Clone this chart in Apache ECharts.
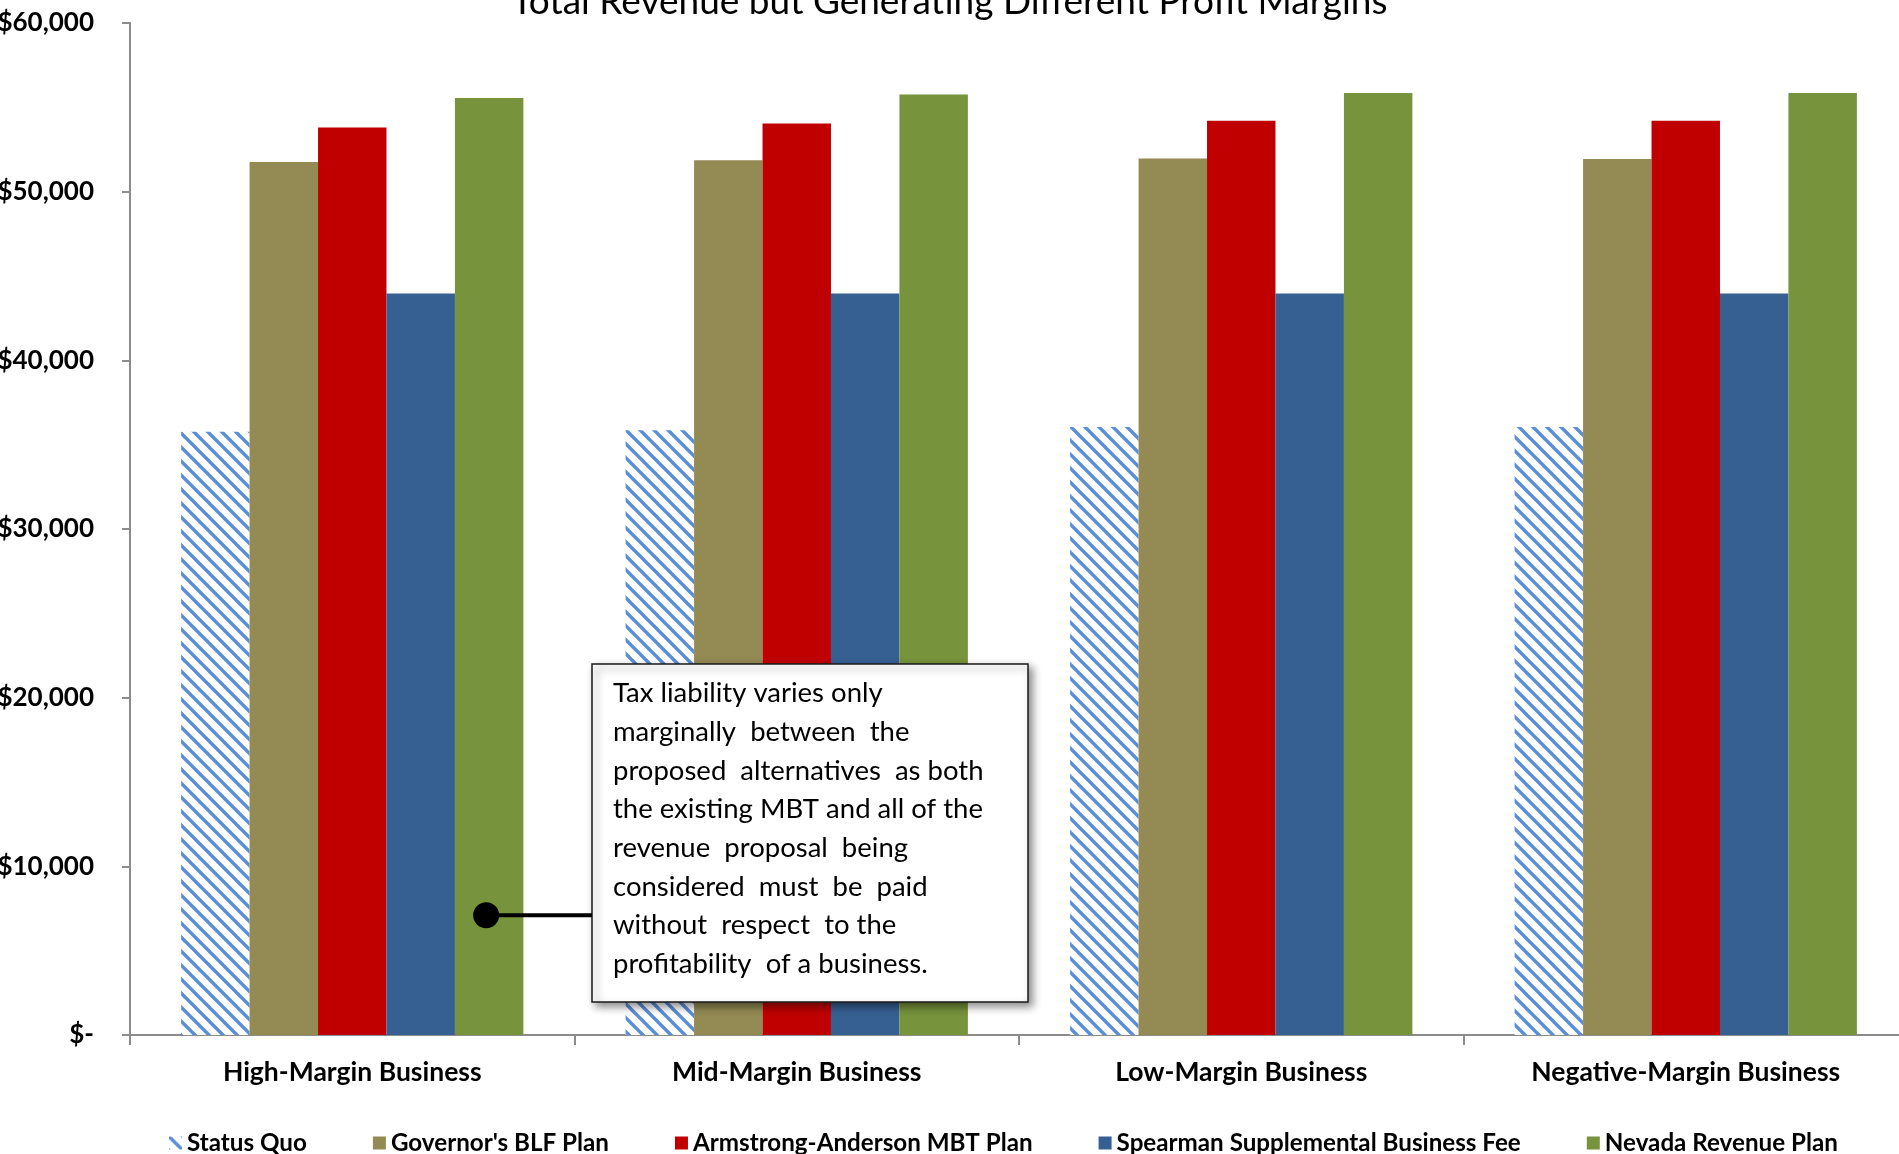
<!DOCTYPE html>
<html>
<head>
<meta charset="utf-8">
<style>
  html, body { margin: 0; padding: 0; background: #ffffff; }
  #chart { width: 1899px; height: 1154px; }
</style>
<script src="https://cdn.jsdelivr.net/npm/echarts@6/dist/echarts.min.js"></script>
</head>
<body>
<div id="chart"></div>
<script>
// Business categories along the x axis
const categories = ['High-Margin Business', 'Mid-Margin Business', 'Low-Margin Business', 'Negative-Margin Business'];

// Tax liability per plan, in dollars
const statusQuo         = [35760, 35860, 36050, 36050];
const governorsBLF      = [51760, 51860, 51960, 51940];
const armstrongAnderson = [53800, 54040, 54210, 54210];
const spearmanFee       = [43960, 43960, 43960, 43960];
const nevadaRevenue     = [55560, 55760, 55850, 55850];

const seriesNames = [
  'Status Quo',
  "Governor's BLF Plan",
  'Armstrong-Anderson MBT Plan',
  'Spearman Supplemental Business Fee',
  'Nevada Revenue Plan'
];

// Value axis range
const yMin = 0;
const yMax = 60000;
const yStep = 10000;

// Callout anchor: inside the Nevada bar of the first category
const calloutCategory = 0;
const calloutValue = 7100;
const calloutLines = [
  'Tax liability varies only',
  'marginally  between  the',
  'proposed  alternatives  as both',
  'the existing MBT and all of the',
  'revenue  proposal  being',
  'considered  must  be  paid',
  'without  respect  to the',
  'profitability  of a business.'
];

const FONT = 'Lato, "Open Sans", sans-serif';

// Diagonal hatch tile for the Status Quo bars
function makeHatch() {
  const s = 14;
  const c = document.createElement('canvas');
  c.width = s; c.height = s;
  const g = c.getContext('2d');
  g.fillStyle = '#ffffff';
  g.fillRect(0, 0, s, s);
  g.strokeStyle = '#5A8FD8';
  g.lineWidth = 3.4;
  for (const k of [-s, 0, s]) {
    g.beginPath();
    g.moveTo(k - 1, -1);
    g.lineTo(k + s + 1, s + 1);
    g.stroke();
  }
  return c;
}

const colors = [
  { image: makeHatch(), repeat: 'repeat' },
  '#948A54',
  '#C00000',
  '#376092',
  '#77933C'
];
const values = [statusQuo, governorsBLF, armstrongAnderson, spearmanFee, nevadaRevenue];

const chart = echarts.init(document.getElementById('chart'), null, { renderer: 'canvas' });

const option = {
  animation: false,
  backgroundColor: '#ffffff',
  title: {
    text: 'Total Revenue but Generating Different Profit Margins',
    left: 'center',
    top: -21,
    textStyle: { fontFamily: FONT, fontSize: 37, fontWeight: 'normal', color: '#000000' }
  },
  grid: {
    left: 130, top: 23, width: 1778, height: 1012,
    containLabel: false,
    outerBoundsMode: 'none'
  },
  legend: {
    left: 164,
    top: 1126,
    itemWidth: 13,
    itemHeight: 13,
    itemGap: 66,
    icon: 'rect',
    textStyle: { fontFamily: FONT, fontSize: 24.2, fontWeight: 'bold', color: '#000000' },
    data: seriesNames
  },
  xAxis: {
    type: 'category',
    data: categories,
    axisLine: { lineStyle: { color: '#8C8C8C', width: 2 } },
    axisTick: { show: true, length: 10, lineStyle: { color: '#8C8C8C', width: 2 } },
    axisLabel: { margin: 24, fontFamily: FONT, fontSize: 26.5, fontWeight: 'bold', color: '#000000' },
    splitLine: { show: false }
  },
  yAxis: {
    type: 'value',
    min: yMin,
    max: yMax,
    interval: yStep,
    axisLine: { show: true, lineStyle: { color: '#8C8C8C', width: 2 } },
    axisTick: { show: true, length: 8, lineStyle: { color: '#8C8C8C', width: 2 } },
    axisLabel: {
      margin: 36,
      fontFamily: FONT,
      fontSize: 26,
      fontWeight: 'bold',
      color: '#000000',
      formatter: v => v === 0 ? '$-' : '$' + v.toLocaleString('en-US')
    },
    splitLine: { show: false }
  },
  series: seriesNames.map((name, i) => ({
    name: name,
    type: 'bar',
    data: values[i],
    barGap: '0%',
    barCategoryGap: '23%',
    itemStyle: { color: colors[i] }
  }))
};

chart.setOption(option);

// Place the callout once the bars are laid out
const layout = chart.getModel().getSeriesByIndex(4).getData().getItemLayout(calloutCategory);
const dotX = layout.x + layout.width / 2 - 3;
const dotY = chart.convertToPixel({ yAxisIndex: 0 }, calloutValue);

const boxX = 592, boxY = 664, boxW = 436, boxH = 338;

chart.setOption({
  graphic: [
    {
      type: 'rect',
      z: 100,
      shape: { x: boxX, y: boxY, width: boxW, height: boxH },
      style: {
        fill: '#ffffff',
        stroke: '#1a1a1a',
        lineWidth: 1.5,
        shadowBlur: 8,
        shadowOffsetX: 4,
        shadowOffsetY: 4,
        shadowColor: 'rgba(0,0,0,0.45)'
      }
    },
    {
      type: 'text',
      z: 101,
      style: {
        x: 613,
        y: 674,
        text: calloutLines.join('\n'),
        font: '27.5px ' + FONT,
        lineHeight: 38.7,
        fill: '#000000'
      }
    },
    {
      type: 'line',
      z: 101,
      shape: { x1: dotX, y1: dotY, x2: boxX, y2: dotY },
      style: { stroke: '#000000', lineWidth: 4 }
    },
    {
      type: 'circle',
      z: 102,
      shape: { cx: dotX, cy: dotY, r: 13 },
      style: { fill: '#000000' }
    }
  ]
});
</script>
</body>
</html>
